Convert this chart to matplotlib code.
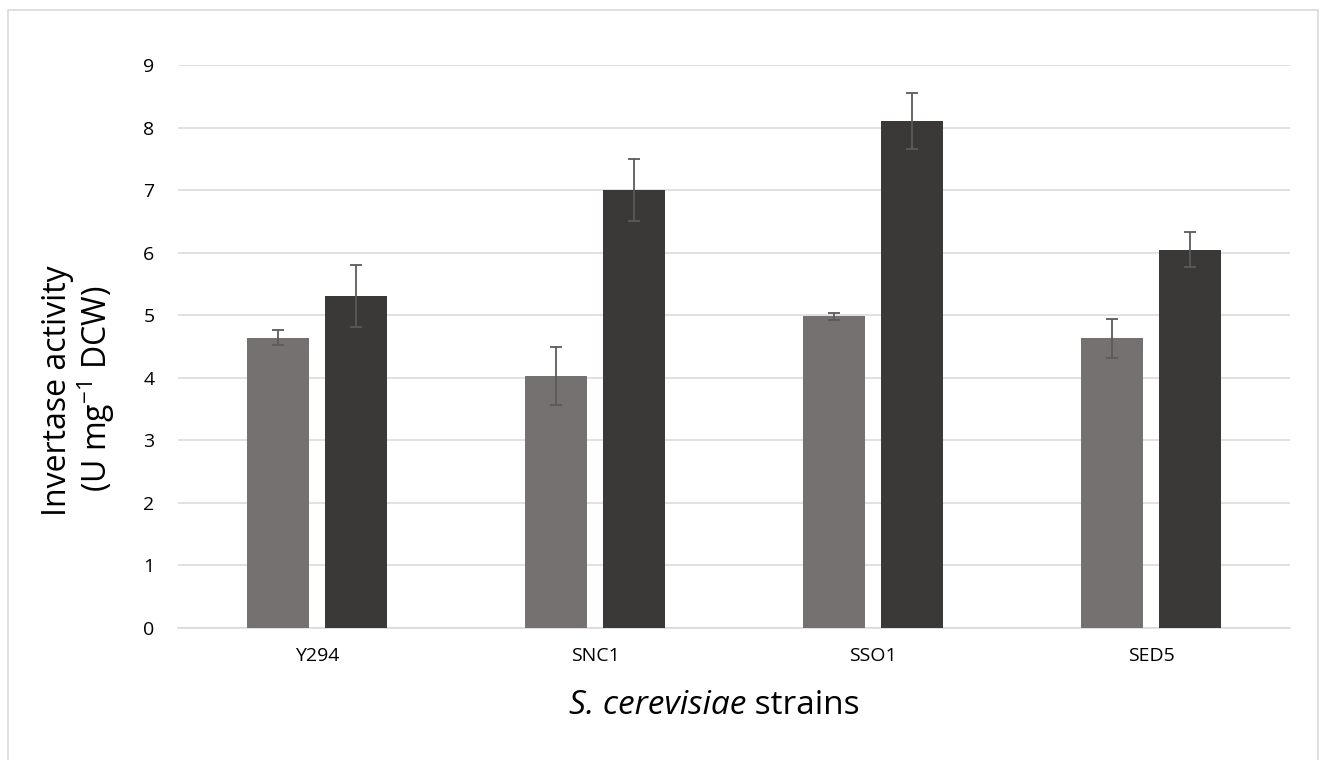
import matplotlib
matplotlib.use("Agg")
import matplotlib.pyplot as plt
import numpy as np
from matplotlib.patches import Rectangle

categories = ["Y294", "SNC1", "SSO1", "SED5"]
series_a = [4.64, 4.03, 4.98, 4.63]
err_a = [0.12, 0.47, 0.05, 0.31]
series_b = [5.31, 7.00, 8.11, 6.05]
err_b = [0.50, 0.50, 0.45, 0.28]
yticks = [0, 1, 2, 3, 4, 5, 6, 7, 8, 9]

plt.rcParams['font.family'] = ['Open Sans', 'DejaVu Sans']
plt.rcParams['mathtext.fontset'] = 'custom'
plt.rcParams['mathtext.rm'] = 'Open Sans'
plt.rcParams['mathtext.it'] = 'Open Sans:italic'

W, H = 1325, 760
fig = plt.figure(figsize=(W / 100, H / 100), dpi=100)
ax = fig.add_axes([178 / W, 1 - 628 / H, (1290 - 178) / W, (628 - 65) / H])

x = np.arange(len(categories))
bw = 0.223
off = 0.142
ekw = dict(ecolor="#5a5a5a", elinewidth=1.3, capsize=4.3, capthick=1.3)
ax.bar(x - off, series_a, bw, color="#767171", yerr=err_a, error_kw=ekw, zorder=3)
ax.bar(x + off, series_b, bw, color="#3b3838", yerr=err_b, error_kw=ekw, zorder=3)

ax.set_xlim(-0.5, len(categories) - 0.5)
ax.set_ylim(0, 9)
ax.set_yticks(yticks)
ax.set_xticks(x)
ax.set_xticklabels(categories)
ax.grid(axis="y", color="#d9d9d9", linewidth=1.1, zorder=0)
for s in ["top", "right", "left"]:
    ax.spines[s].set_visible(False)
ax.spines["bottom"].set_color("#d9d9d9")
ax.spines["bottom"].set_linewidth(1.1)
ax.tick_params(axis="both", length=0, labelsize=14, colors="#000000")
ax.tick_params(axis="y", pad=17)
ax.tick_params(axis="x", pad=14)

fig.text(57 / W, 1 - 391 / H, "Invertase activity", rotation=90, ha="center", va="center", fontsize=23)
fig.text(96 / W, 1 - 389 / H, "(U mg$^{-1}$ DCW)", rotation=90, ha="center", va="center", fontsize=23)

t1 = fig.text(569 / W, 1 - 706 / H, "S. cerevisiae", style="italic", ha="left", va="center", fontsize=24)
ax.annotate(" strains", xy=(1, 0.5), xycoords=t1, ha="left", va="center", fontsize=24,
            annotation_clip=False)

fig.patches.append(Rectangle((8 / W, -0.05), (1318 - 8) / W, 1.05 - 10 / H,
                             transform=fig.transFigure, fill=False,
                             edgecolor="#d9d9d9", linewidth=1.2, clip_on=False))

fig.savefig("out.png", dpi=100)
